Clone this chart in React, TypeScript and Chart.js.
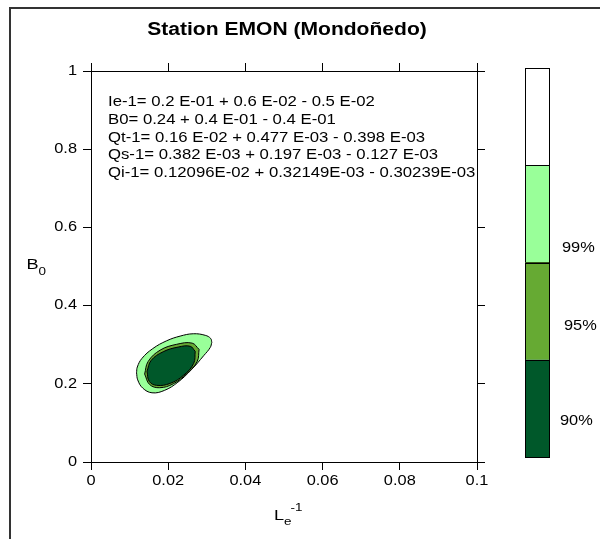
import React, { useEffect, useRef } from 'react';
import { Chart, registerables } from 'chart.js';

Chart.register(...registerables);

const titleText = 'Station EMON (Mondoñedo)';
const xTicks = [0, 0.02, 0.04, 0.06, 0.08, 0.1];
const yTicks = [0, 0.2, 0.4, 0.6, 0.8, 1];
const annotationLines = [
  'Ie-1= 0.2 E-01 + 0.6 E-02 - 0.5 E-02',
  'B0= 0.24 + 0.4 E-01 - 0.4 E-01',
  'Qt-1= 0.16 E-02 + 0.477 E-03 - 0.398 E-03',
  'Qs-1= 0.382 E-03 + 0.197 E-03 - 0.127 E-03',
  'Qi-1= 0.12096E-02 + 0.32149E-03 - 0.30239E-03',
];
const colorbarColors = ['#ffffff', '#99ff99', '#66aa33', '#00582a'];
const colorbarLabels = ['', '99%', '95%', '90%'];

// contour outlines (upper and lower halves, x increasing)
const c99Upper = [
  { x: 0.0118, y: 0.228 }, { x: 0.0120, y: 0.243 }, { x: 0.0132, y: 0.265 }, { x: 0.0160, y: 0.29 },
  { x: 0.0196, y: 0.31 }, { x: 0.0231, y: 0.322 }, { x: 0.0265, y: 0.328 }, { x: 0.0296, y: 0.324 },
  { x: 0.0310, y: 0.316 }, { x: 0.0313, y: 0.306 },
];
const c99Lower = [
  { x: 0.0118, y: 0.228 }, { x: 0.0121, y: 0.21 }, { x: 0.0134, y: 0.189 }, { x: 0.0158, y: 0.177 },
  { x: 0.019, y: 0.183 }, { x: 0.0225, y: 0.204 }, { x: 0.026, y: 0.236 }, { x: 0.0292, y: 0.272 },
  { x: 0.0309, y: 0.293 }, { x: 0.0313, y: 0.306 },
];
const c95Upper = [
  { x: 0.0139, y: 0.225 }, { x: 0.0148, y: 0.257 }, { x: 0.0179, y: 0.286 }, { x: 0.0222, y: 0.301 },
  { x: 0.0262, y: 0.304 }, { x: 0.028, y: 0.288 },
];
const c95Lower = [
  { x: 0.0139, y: 0.225 }, { x: 0.0152, y: 0.198 }, { x: 0.0178, y: 0.19 }, { x: 0.0213, y: 0.2 },
  { x: 0.0248, y: 0.226 }, { x: 0.0275, y: 0.257 }, { x: 0.028, y: 0.288 },
];
const c90Upper = [
  { x: 0.0145, y: 0.232 }, { x: 0.0156, y: 0.26 }, { x: 0.0187, y: 0.282 }, { x: 0.0226, y: 0.294 },
  { x: 0.0257, y: 0.296 }, { x: 0.027, y: 0.283 },
];
const c90Lower = [
  { x: 0.0145, y: 0.232 }, { x: 0.0151, y: 0.206 }, { x: 0.017, y: 0.196 }, { x: 0.0205, y: 0.201 },
  { x: 0.024, y: 0.222 }, { x: 0.0266, y: 0.252 }, { x: 0.027, y: 0.283 },
];

const FONT = 'Arial, "Liberation Sans", sans-serif';
const SX = 1.17; // horizontal stretch of the reference text

const fmt = (v: number) => String(Math.round(v * 1000) / 1000);

function txt(ctx: CanvasRenderingContext2D, t: string, x: number, y: number, align: CanvasTextAlign, font: string) {
  ctx.save();
  ctx.font = font;
  ctx.textAlign = align;
  ctx.textBaseline = 'middle';
  ctx.translate(x, y);
  ctx.scale(SX, 1);
  ctx.fillText(t, 0, 0);
  const w = ctx.measureText(t).width * SX;
  ctx.restore();
  return w;
}

const overlay = {
  id: 'overlay',
  afterDraw(chart: any) {
    const ctx = chart.ctx as CanvasRenderingContext2D;
    const sx = chart.scales.x;
    const sy = chart.scales.y;
    ctx.save();
    // outer frame
    ctx.strokeStyle = '#333';
    ctx.lineWidth = 2;
    ctx.beginPath();
    ctx.moveTo(10, 545);
    ctx.lineTo(10, 8);
    ctx.lineTo(610, 8);
    ctx.stroke();

    ctx.fillStyle = '#000';
    // title
    txt(ctx, titleText, 287, 30, 'center', `bold 18px ${FONT}`);

    // annotation
    annotationLines.forEach((t, i) => txt(ctx, t, 108, 102 + i * 17.8, 'left', `14.3px ${FONT}`));

    // tick labels
    xTicks.forEach((v) => txt(ctx, fmt(v), sx.getPixelForValue(v), 481, 'center', `14px ${FONT}`));
    yTicks.forEach((v) => txt(ctx, fmt(v), 77, sy.getPixelForValue(v), 'right', `14px ${FONT}`));

    // y-axis title B0
    const bw = txt(ctx, 'B', 26.5, 265, 'left', `15.5px ${FONT}`);
    txt(ctx, '0', 26.5 + bw, 272, 'left', `11.5px ${FONT}`);

    // x-axis title Le^-1
    const lx = 274;
    const lw = txt(ctx, 'L', lx, 516, 'left', `15.5px ${FONT}`);
    const ew = txt(ctx, 'e', lx + lw, 522, 'left', `11.5px ${FONT}`);
    txt(ctx, '-1', lx + lw + ew - 1, 508, 'left', `11.5px ${FONT}`);

    // colorbar
    const cbLeft = 525, cbRight = 549, cbTop = 68, cbBottom = 457;
    const segH = (cbBottom - cbTop) / colorbarColors.length;
    ctx.lineWidth = 1;
    ctx.strokeStyle = '#000';
    colorbarColors.forEach((c, i) => {
      const y0 = cbTop + i * segH;
      ctx.fillStyle = c;
      ctx.fillRect(cbLeft, y0, cbRight - cbLeft, segH);
      ctx.strokeRect(cbLeft + 0.5, Math.round(y0) + 0.5, cbRight - cbLeft, Math.round(segH));
    });
    ctx.fillStyle = '#000';
    const labelY = [0, 248, 326, 421];
    const labelX = [0, 562, 564, 560];
    colorbarLabels.forEach((t, i) => {
      if (t) txt(ctx, t, labelX[i], labelY[i], 'left', `14px ${FONT}`);
    });
    ctx.restore();
  },
};

const setTicks = (vals: number[]) => (s: any) => {
  s.ticks = vals.map((v) => ({ value: v }));
};

function axis(position: string, vals: number[], min: number, max: number, size: number) {
  const horizontal = position === 'top' || position === 'bottom';
  return {
    type: 'linear',
    position,
    min,
    max,
    afterBuildTicks: setTicks(vals),
    afterFit: (s: any) => {
      if (horizontal) s.height = size;
      else s.width = size;
    },
    grid: { drawOnChartArea: false, tickLength: 8, color: '#000', tickColor: '#000', lineWidth: 1 },
    border: { display: true, color: '#000', width: 1 },
    ticks: { display: false },
  };
}

function line(data: any[], fill: any, color: string) {
  return {
    data,
    showLine: true,
    borderColor: '#000',
    borderWidth: 1,
    pointRadius: 0,
    tension: 0.4,
    fill,
    backgroundColor: color,
    xAxisID: 'x',
    yAxisID: 'y',
  };
}

export default function App() {
  const ref = useRef<HTMLCanvasElement>(null);
  useEffect(() => {
    if (!ref.current) return;
    const chart = new Chart(ref.current, {
      type: 'scatter',
      data: {
        datasets: [
          line(c90Upper, false, colorbarColors[3]),
          line(c90Lower, '-1', colorbarColors[3]),
          line(c95Upper, false, colorbarColors[2]),
          line(c95Lower, '-1', colorbarColors[2]),
          line(c99Upper, false, colorbarColors[1]),
          line(c99Lower, '-1', colorbarColors[1]),
        ] as any,
      },
      options: {
        animation: false,
        responsive: false,
        maintainAspectRatio: false,
        layout: { padding: { left: 0, top: 63, right: 115, bottom: 0 } },
        plugins: {
          legend: { display: false },
          tooltip: { enabled: false },
          title: { display: false },
        },
        scales: {
          x: axis('bottom', xTicks, 0, 0.1, 77),
          x2: axis('top', xTicks, 0, 0.1, 8),
          y: axis('left', yTicks, 0, 1, 91),
          y2: axis('right', yTicks, 0, 1, 8),
        } as any,
      },
      plugins: [overlay],
    });
    return () => chart.destroy();
  }, []);
  return (
    <div style={{ position: 'fixed', left: 0, top: 0, width: 600, height: 539, background: '#fff' }}>
      <canvas ref={ref} width={600} height={539} style={{ width: 600, height: 539, display: 'block' }} />
    </div>
  );
}
